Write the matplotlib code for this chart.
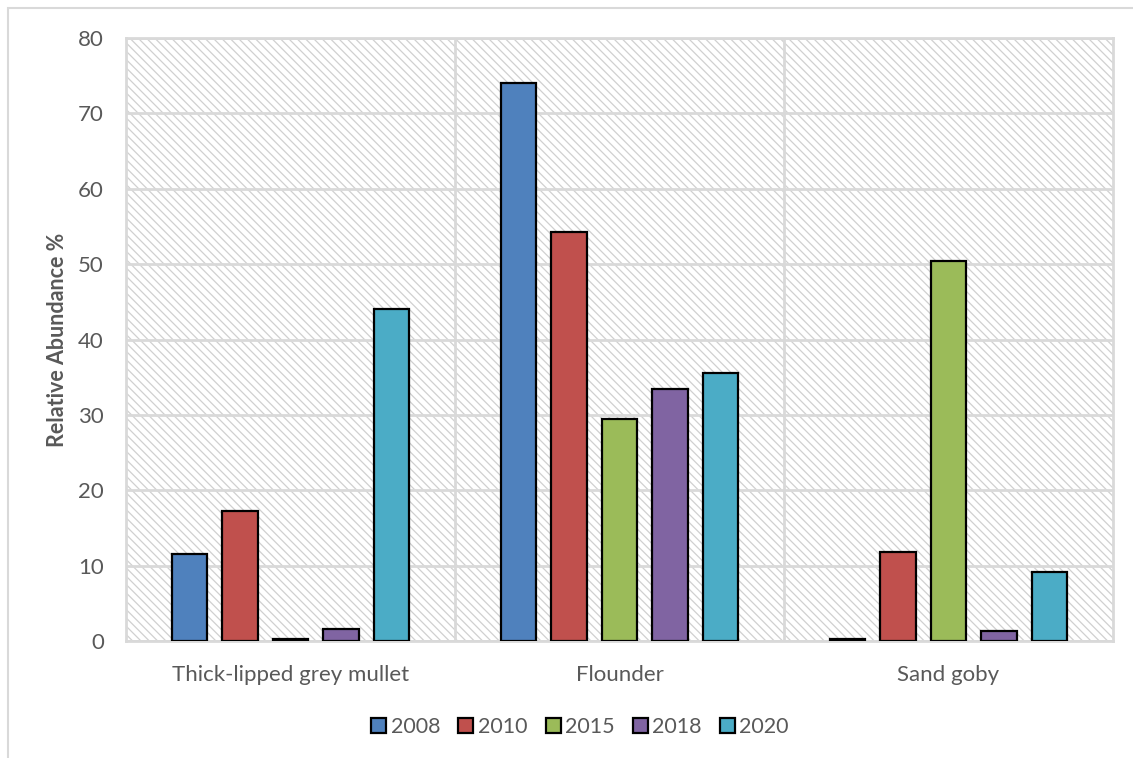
import numpy as np
import matplotlib
matplotlib.use("Agg")
import matplotlib.pyplot as plt
from matplotlib.patches import Rectangle

plt.rcParams['font.family'] = ['Lato', 'DejaVu Sans']
plt.rcParams['hatch.color'] = '#d0d0d0'
plt.rcParams['hatch.linewidth'] = 0.9

# 資料
species = ["Thick-lipped grey mullet", "Flounder", "Sand goby"]
years = ["2008", "2010", "2015", "2018", "2020"]
abundance_2008 = [11.5, 74.0, 0.3]
abundance_2010 = [17.3, 54.3, 11.8]
abundance_2015 = [0.3, 29.5, 50.4]
abundance_2018 = [1.6, 33.4, 1.3]
abundance_2020 = [44.1, 35.5, 9.1]
series = [abundance_2008, abundance_2010, abundance_2015, abundance_2018, abundance_2020]
colors = ['#4F81BD', '#C0504D', '#9BBB59', '#8064A2', '#4BACC6']

text_gray = '#595959'
grid_gray = '#d9d9d9'

fig = plt.figure(figsize=(11.33, 7.58), dpi=100)

# 外框 (只看得到左邊和上邊)
fig.patches.append(Rectangle((8 / 1133, -0.05), 1.1, (750 / 758) + 0.05,
                             transform=fig.transFigure, fill=False,
                             edgecolor=grid_gray, linewidth=1.5, zorder=0))

ax = fig.add_axes([126 / 1133, 117 / 758, (1113 - 126) / 1133, (641 - 38) / 758])

# 斜線底紋背景
ax.add_patch(Rectangle((0, 0), 1, 1, transform=ax.transAxes, facecolor='white',
                       hatch='\\\\\\\\', edgecolor='#d0d0d0', linewidth=0, zorder=0))

x = np.arange(len(species))
pitch = 0.1535
width = 0.109
for j, (vals, c, lab) in enumerate(zip(series, colors, years)):
    ax.bar(x + (j - 2) * pitch, vals, width, color=c, edgecolor='black',
           linewidth=1.6, label=lab, zorder=3)

ax.set_xlim(-0.5, len(species) - 0.5)
ax.set_ylim(0, 80)
ax.set_yticks(np.arange(0, 81, 10))
ax.set_xticks(x)
ax.set_xticklabels(species)
ax.set_xticks([0.5, 1.5], minor=True)

ax.grid(axis='y', which='major', color=grid_gray, linewidth=2, zorder=1)
ax.grid(axis='x', which='minor', color=grid_gray, linewidth=2, zorder=1)
ax.grid(axis='x', which='major', visible=False)
ax.set_axisbelow(True)

for s in ax.spines.values():
    s.set_color(grid_gray)
    s.set_linewidth(2)

ax.tick_params(axis='both', which='both', length=0, colors=text_gray, labelsize=16)
ax.tick_params(axis='y', pad=16)
ax.tick_params(axis='x', pad=17)

ax.set_ylabel("Relative Abundance %", fontsize=15.5, fontweight='bold',
              color=text_gray, labelpad=7)

leg = fig.legend(loc='center', bbox_to_anchor=(580 / 1133, 1 - 727 / 758),
                 ncol=5, frameon=False, fontsize=15.5, handlelength=0.7,
                 handleheight=0.7, handletextpad=0.2, columnspacing=0.85)
for t in leg.get_texts():
    t.set_color(text_gray)

plt.savefig("out.png", dpi=100)
plt.close()
